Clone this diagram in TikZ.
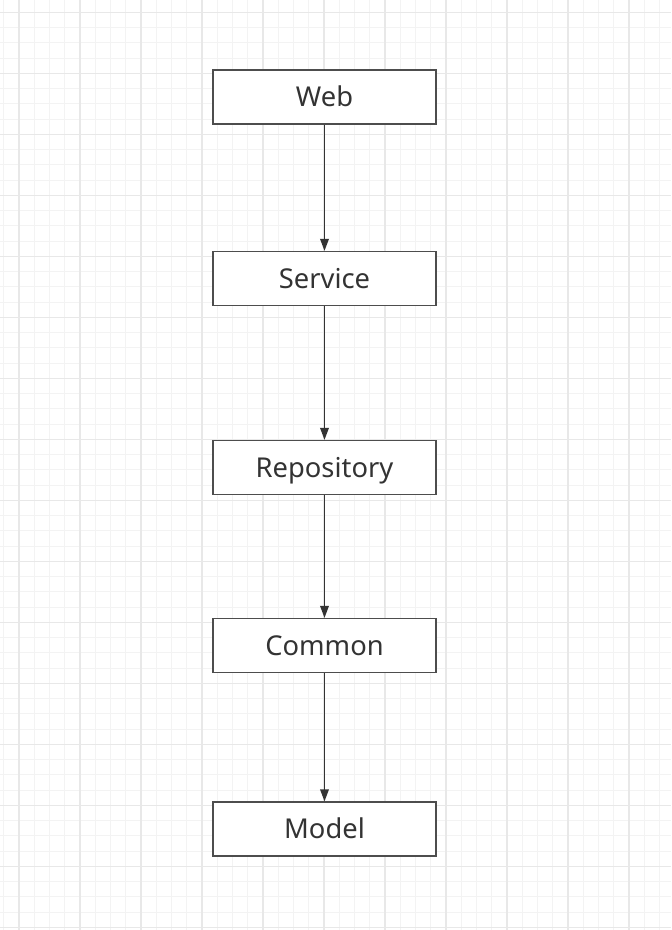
\documentclass[tikz,border=0pt]{standalone}
\usepackage{fontspec}
\setmainfont{Noto Sans}
\usepackage{tikz}
\usetikzlibrary{arrows.meta,positioning}
\definecolor{gridmajor}{HTML}{E8E8E8}
\definecolor{gridminor}{HTML}{F3F3F3}
\definecolor{boxline}{HTML}{4D4D4D}
\definecolor{labeltext}{HTML}{333333}

\begin{document}
\begin{tikzpicture}
[x=0.75pt,y=-0.75pt,
minorline/.style={gridminor,line width=0.75pt},
majorline/.style={gridmajor,line width=1pt},
layer/.style={
draw=boxline,line width=1pt,fill=white,
minimum width=167.25pt,minimum height=40.5pt,
text height=14.6pt,text depth=0pt,
text=labeltext,font=\fontsize{20.5pt}{24pt}\selectfont},
dep/.style={draw=labeltext,line width=1pt,-{Triangle[length=9pt,width=6.5pt]}}]
\useasboundingbox[fill=white] (0,0) rectangle (671,930);

% grid
\foreach \i in {0,...,43} \draw[minorline] ({3.7+15.25*\i},0) -- ({3.7+15.25*\i},930);
\foreach \j in {0,...,60} \draw[minorline] (0,{12.3+15.25*\j}) -- (671,{12.3+15.25*\j});
\foreach \i in {0,...,10} \draw[majorline] ({19+61*\i},0) -- ({19+61*\i},930);
\foreach \j in {0,...,15} \draw[majorline] (0,{12.3+61*\j}) -- (671,{12.3+61*\j});

% layers
\node (web) at (324.5,97) [layer] {Web};
\node (service) at (324.5,278.5) [layer] {Service};
\node (repository) at (324.5,467.5) [layer] {Repository};
\node (common) at (324.5,645.5) [layer] {Common};
\node (model) at (324.5,829) [layer] {Model};

\draw[dep] (web) -- (service);
\draw[dep] (service) -- (repository);
\draw[dep] (repository) -- (common);
\draw[dep] (common) -- (model);

\end{tikzpicture}
\end{document}
